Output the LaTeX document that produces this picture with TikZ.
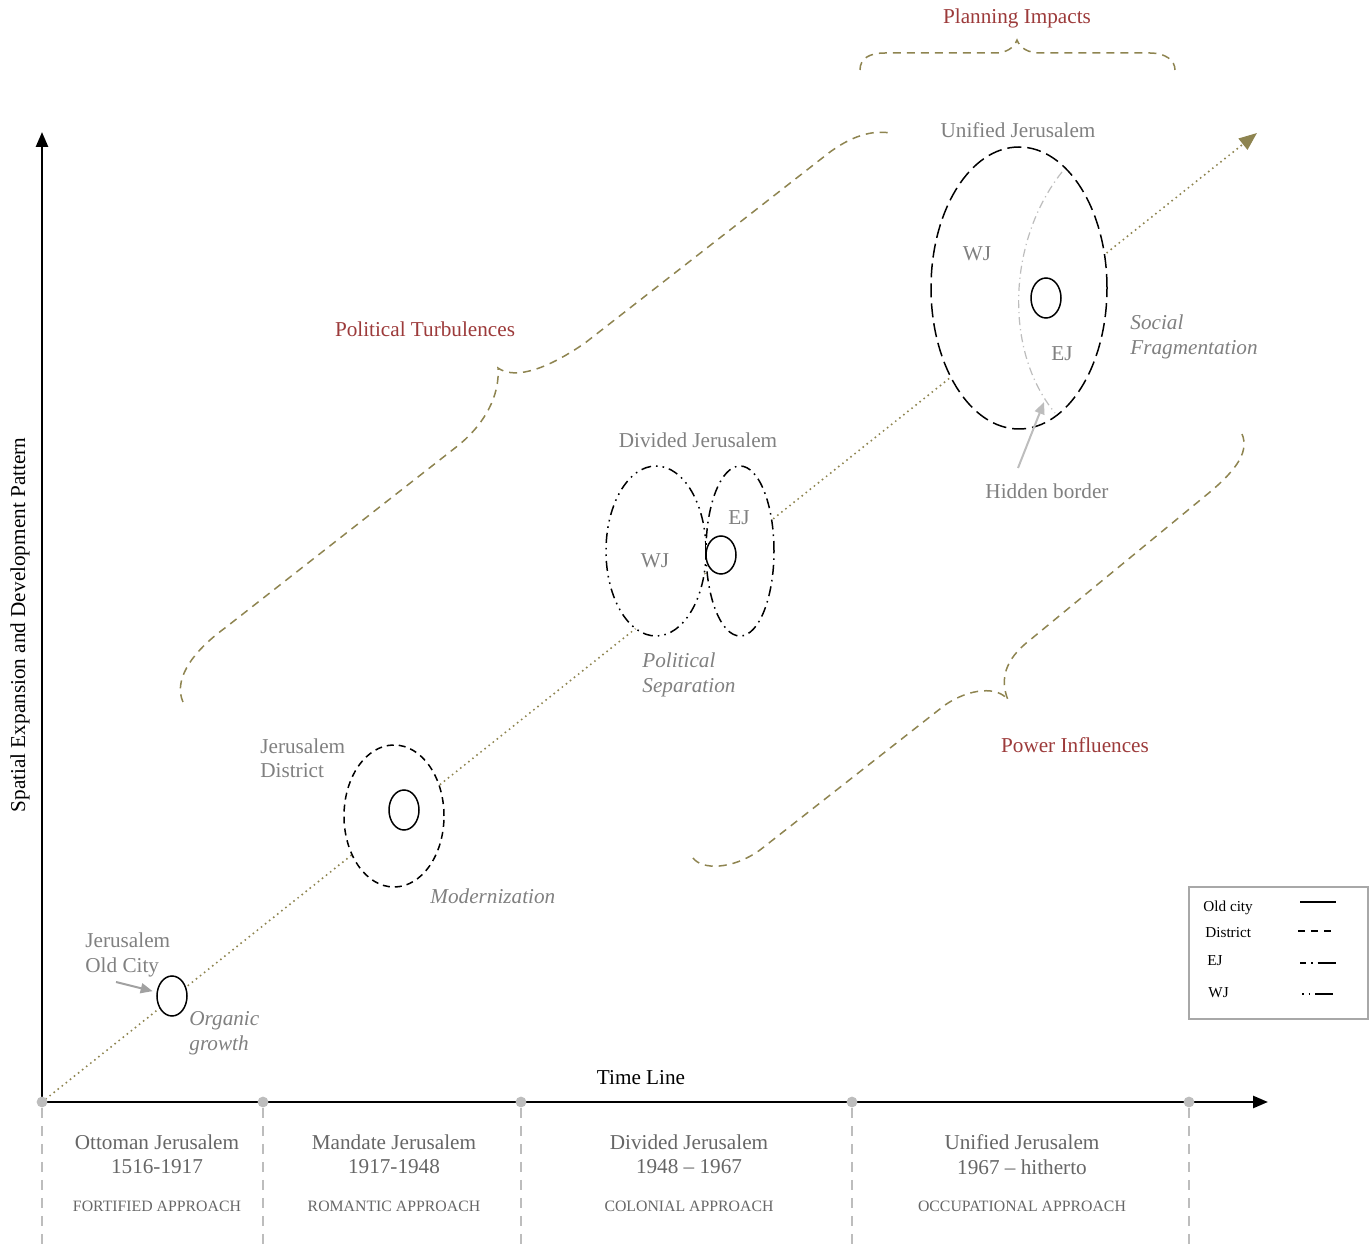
\documentclass[tikz,border=0pt]{standalone}
\usepackage{fontspec}
\setmainfont{Liberation Serif}
\usetikzlibrary{shapes.geometric,arrows.meta}
\definecolor{txtgray}{HTML}{808080}
\definecolor{pergray}{HTML}{666666}
\definecolor{redlab}{HTML}{9C3A3A}
\definecolor{olivec}{HTML}{8E8450}
\definecolor{ltgray}{HTML}{BDBDBD}
\definecolor{boxgray}{HTML}{A8A8A8}
\begin{document}
\begin{tikzpicture}[x=0.5pt,y=-0.5pt,
  main/.style={font=\fontsize{10.6}{12.2}\selectfont, inner sep=0pt},
  graylab/.style={main, text=txtgray},
  perlab/.style={main, text=pergray, align=center},
  caplab/.style={inner sep=0pt, text=pergray, font=\fontsize{7.9}{9}\selectfont},
  redlabel/.style={main, text=redlab},
  itlab/.style={inner sep=0pt, text=txtgray, font=\fontsize{10.6}{12.5}\selectfont\itshape, align=left},
  leglab/.style={inner sep=0pt, font=\fontsize{7.6}{9}\selectfont},
  axis/.style={line width=1.3pt, -{Triangle[length=7.5pt,width=6pt]}},
  growth/.style={olivec, line width=1.1pt, line cap=round, dash pattern=on 0pt off 2.6pt, -{Triangle[length=9pt,width=7pt]}},
  bracestyle/.style={olivec, line width=0.75pt, dash pattern=on 4pt off 3pt},
  gdot/.style={circle, fill=ltgray, inner sep=0pt, minimum size=5.4pt},
  vdash/.style={ltgray, line width=1pt, dash pattern=on 5pt off 4pt},
  oval/.style={ellipse, inner sep=0pt, draw=black, line width=0.75pt, fill=white},
  oldcity/.style={oval, minimum width=15pt, minimum height=20pt},
  districtstyle/.style={oval, dash pattern=on 3.5pt off 2.5pt},
  unistyle/.style={oval, dash pattern=on 7pt off 3pt},
  wjstyle/.style={oval, dash pattern=on 5pt off 2.5pt on 0.8pt off 2.5pt on 0.8pt off 2.5pt},
  ejstyle/.style={oval, dash pattern=on 5pt off 2.5pt on 0.8pt off 2.5pt},
  garrow/.style={draw=ltgray!85!black, line width=1pt, -{Triangle[length=6pt,width=5pt]}},
  hiddenb/.style={ltgray, line width=0.6pt, dash pattern=on 4pt off 2pt on 0.6pt off 2pt},
]
\useasboundingbox (0,0) rectangle (1372,1245);

% ---- axes ----
\coordinate (O) at (42,1102);
\coordinate (ytip) at (42,132);
\coordinate (xtip) at (1268,1102);
\coordinate (gtip) at (1257,133);
\coordinate (bot) at (0,1245);

% growth line (drawn first, ellipses cover it)
\draw[growth] (O) -- (gtip);

\draw[axis] (O) -- (ytip);
\draw[axis] (O) -- (xtip);

\node[main] (tl) at (641,1078) {Time Line};
\node[main, rotate=90] (ylab) at (20,625) {Spatial Expansion and Development Pattern};

% ---- time ticks ----
\node[gdot] (t0) at (42,1102) {};
\node[gdot] (t1) at (263,1102) {};
\node[gdot] (t2) at (521,1102) {};
\node[gdot] (t3) at (852,1102) {};
\node[gdot] (t4) at (1189,1102) {};
\foreach \t in {t0,t1,t2,t3,t4} {\draw[vdash] (\t) -- (\t |- bot);}

\node[perlab] (p1) at (157,1154.5) {Ottoman Jerusalem\\1516-1917};
\node[perlab] (p2) at (394,1154.5) {Mandate Jerusalem\\1917-1948};
\node[perlab] (p3) at (689,1154.5) {Divided Jerusalem\\1948 -- 1967};
\node[perlab] (p4) at (1022,1154.5) {Unified Jerusalem\\1967 -- hitherto};
\node[caplab] (c1) at (157,1206) {FORTIFIED APPROACH};
\node[caplab] (c2) at (394,1206) {ROMANTIC APPROACH};
\node[caplab] (c3) at (689,1206) {COLONIAL APPROACH};
\node[caplab] (c4) at (1022,1206) {OCCUPATIONAL APPROACH};

% ---- Old city ----
\node[oldcity] (oc) at (172,996) {};
\node[graylab, anchor=west, align=left] (oclab) at (85,955) {Jerusalem\\Old City};
\coordinate (ocarr) at (116,982);
\draw[garrow, shorten >=2pt] (ocarr) -- (oc);
\node[itlab, anchor=west] (org) at (189,1033) {Organic\\growth};

% ---- District ----
\node[districtstyle, minimum width=50pt, minimum height=71pt] (dist) at (394,816) {};
\node[oldcity] (distoc) at (404,810) {};
\node[graylab, anchor=west, align=left] (distlab) at (260,758.5) {Jerusalem\\District};
\node[itlab, anchor=west] (mod) at (430,896) {Modernization};

% ---- Divided ----
\node[wjstyle, minimum width=50pt, minimum height=85pt] (wj) at (656,551) {};
\node[ejstyle, minimum width=34pt, minimum height=85pt] (ej) at (740,551) {};
\node[oldcity, minimum height=19pt] (divoc) at (721,555) {};
\node[graylab] (wjlab) at (655,561) {WJ};
\node[graylab] (ejlab) at (739,518) {EJ};
\node[graylab] (divlab) at (698,440) {Divided Jerusalem};
\node[itlab, anchor=west] (polsep) at (642,674.5) {Political\\Separation};

% ---- Unified ----
\node[unistyle, minimum width=88pt, minimum height=141pt] (uni) at (1019,288) {};
\coordinate (hbtop) at (1062,172);
\coordinate (hbbot) at (1055,413);
\draw[hiddenb] (hbtop) .. controls (1008,240) and (1003,350) .. (hbbot);
\node[oldcity] (unioc) at (1046,298) {};
\node[graylab] (uwj) at (977,254) {WJ};
\node[graylab] (uej) at (1062,354) {EJ};
\node[graylab] (unilab) at (1018,130) {Unified Jerusalem};
\node[itlab, anchor=west] (socfr) at (1130,336.5) {Social\\Fragmentation};
\node[graylab] (hb) at (1047,491) {Hidden border};
\coordinate (hbs) at (1018,468);
\coordinate (hbt) at (1044,402);
\draw[garrow, draw=ltgray] (hbs) -- (hbt);

% ---- braces ----
\coordinate (b1a) at (860,70);
\coordinate (b1t) at (1017,40);
\coordinate (b1b) at (1175,70);
\draw[bracestyle] (b1a) .. controls (860,58) and (870,53) .. (885,53) -- (995,53)
   .. controls (1006,53) and (1014,48) .. (b1t)
   .. controls (1020,48) and (1028,53) .. (1040,53) -- (1150,53)
   .. controls (1165,53) and (1175,60) .. (b1b);
\node[redlabel] (plan) at (1017,18) {Planning Impacts};

\coordinate (b2a) at (183,702);
\coordinate (b2t) at (498,368);
\coordinate (b2b) at (890,133);
\draw[bracestyle] (b2a) .. controls (174,682) and (188,655) .. (225,628) -- (455,448)
   .. controls (485,425) and (500,395) .. (b2t)
   .. controls (512,378) and (540,374) .. (585,343) -- (830,152)
   .. controls (852,136) and (872,130) .. (b2b);
\node[redlabel] (polt) at (425,329) {Political Turbulences};

\coordinate (b3a) at (693,858);
\coordinate (b3t) at (1008,700);
\coordinate (b3b) at (1240,430);
\draw[bracestyle] (b3a) .. controls (702,870) and (732,870) .. (760,850) -- (945,705)
   .. controls (970,688) and (998,686) .. (b3t)
   .. controls (1000,680) and (1004,660) .. (1030,640) -- (1210,492)
   .. controls (1236,470) and (1252,450) .. (b3b);
\node[redlabel] (powi) at (1075,745) {Power Influences};

% ---- legend ----
\node[draw=boxgray, line width=0.75pt, inner sep=0pt, minimum width=89.5pt, minimum height=66pt] (legend) at (1278.5,953) {};
\node[leglab, anchor=west] (l1) at (1203,908) {Old city};
\node[leglab, anchor=west] (l2) at (1205,933) {District};
\node[leglab, anchor=west] (l3) at (1207,961) {EJ};
\node[leglab, anchor=west] (l4) at (1208,993) {WJ};
\coordinate (s1a) at (1300,902); \coordinate (s1b) at (1336,902);
\coordinate (s2a) at (1298,931); \coordinate (s2b) at (1336,931);
\coordinate (s3a) at (1300,963); \coordinate (s3b) at (1336,963);
\coordinate (s4a) at (1302,994); \coordinate (s4b) at (1336,994);
\draw[line width=0.8pt] (s1a) -- (s1b);
\draw[line width=0.8pt, dash pattern=on 3.5pt off 3pt] (s2a) -- (s2b);
\draw[line width=0.8pt, dash pattern=on 3pt off 2.5pt on 0.8pt off 2.5pt on 9pt off 20pt] (s3a) -- (s3b);
\draw[line width=0.8pt, dash pattern=on 0.8pt off 2.5pt on 0.8pt off 2.5pt on 9pt off 20pt] (s4a) -- (s4b);
\end{tikzpicture}
\end{document}
